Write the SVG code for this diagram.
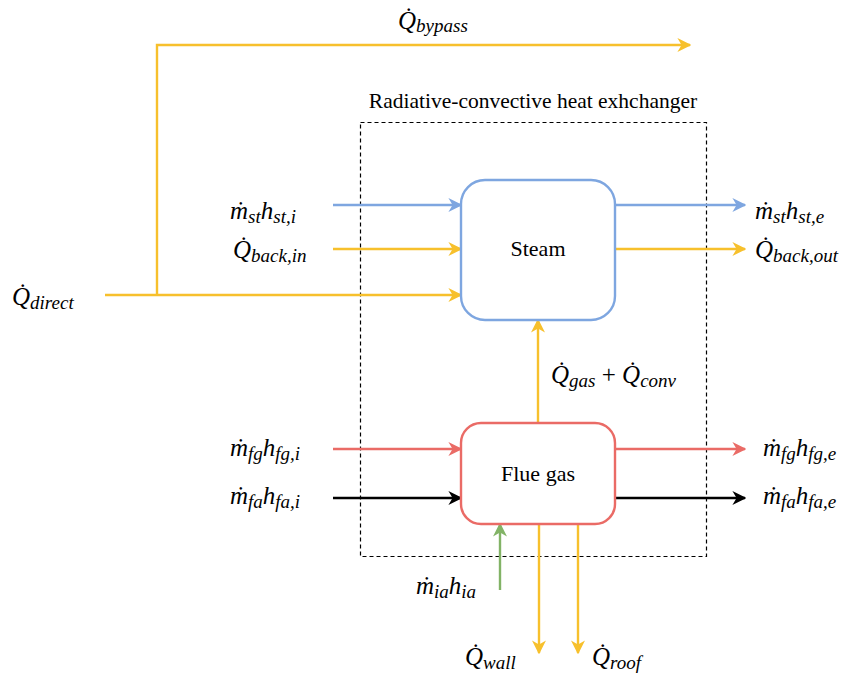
<svg xmlns="http://www.w3.org/2000/svg" width="857" height="675" viewBox="0 0 857 675">
  <defs>
    <marker id="ay" viewBox="0 0 10 10" refX="9" refY="5" markerWidth="14" markerHeight="14" markerUnits="userSpaceOnUse" orient="auto"><path d="M0,0 L10,5 L0,10 L3,5 z" fill="#f7c02c"/></marker>
    <marker id="ab" viewBox="0 0 10 10" refX="9" refY="5" markerWidth="14" markerHeight="14" markerUnits="userSpaceOnUse" orient="auto"><path d="M0,0 L10,5 L0,10 L3,5 z" fill="#7ea6e0"/></marker>
    <marker id="ar" viewBox="0 0 10 10" refX="9" refY="5" markerWidth="14" markerHeight="14" markerUnits="userSpaceOnUse" orient="auto"><path d="M0,0 L10,5 L0,10 L3,5 z" fill="#ea6b66"/></marker>
    <marker id="ak" viewBox="0 0 10 10" refX="9" refY="5" markerWidth="14" markerHeight="14" markerUnits="userSpaceOnUse" orient="auto"><path d="M0,0 L10,5 L0,10 L3,5 z" fill="#000"/></marker>
    <marker id="ag" viewBox="0 0 10 10" refX="9" refY="5" markerWidth="14" markerHeight="14" markerUnits="userSpaceOnUse" orient="auto"><path d="M0,0 L10,5 L0,10 L3,5 z" fill="#82b366"/></marker>
  </defs>

  <!-- control volume boundary -->
  <g id="boundary">
    <rect x="360.5" y="122.5" width="346" height="434" fill="none" stroke="#000" stroke-width="1.2" stroke-dasharray="4 3"/>
    <text x="533" y="108" style="font-family:'Times New Roman','Liberation Serif',serif;font-size:21.5px" text-anchor="middle">Radiative-convective heat exhchanger</text>
  </g>

  <!-- connectors -->
  <g id="connectors" fill="none" stroke-width="2.4">
    <path stroke="#f7c02c" d="M157,295 V45 H690" marker-end="url(#ay)"/>
    <path stroke="#f7c02c" d="M105,295 H461" marker-end="url(#ay)"/>
    <path stroke="#7ea6e0" d="M333,205 H461" marker-end="url(#ab)"/>
    <path stroke="#f7c02c" d="M333,249 H461" marker-end="url(#ay)"/>
    <path stroke="#7ea6e0" d="M615,205 H745" marker-end="url(#ab)"/>
    <path stroke="#f7c02c" d="M615,249 H745" marker-end="url(#ay)"/>
    <path stroke="#f7c02c" d="M538,423 V320" marker-end="url(#ay)"/>
    <path stroke="#ea6b66" d="M333,449 H461" marker-end="url(#ar)"/>
    <path stroke="#000" d="M333,498 H461" marker-end="url(#ak)"/>
    <path stroke="#ea6b66" d="M615,449 H745" marker-end="url(#ar)"/>
    <path stroke="#000" d="M615,498 H745" marker-end="url(#ak)"/>
    <path stroke="#82b366" d="M500,590 V524" marker-end="url(#ag)"/>
    <path stroke="#f7c02c" d="M539,524 V653" marker-end="url(#ay)"/>
    <path stroke="#f7c02c" d="M578,524 V653" marker-end="url(#ay)"/>
  </g>

  <g id="steam">
    <rect x="461" y="180" width="154" height="140" rx="24" fill="#fff" stroke="#7ea6e0" stroke-width="2.4"/>
    <text x="538" y="256" style="font-family:'Times New Roman','Liberation Serif',serif;font-size:22px" text-anchor="middle">Steam</text>
  </g>
  <g id="flue-gas">
    <rect x="461" y="423" width="154" height="101" rx="20" fill="#fff" stroke="#ea6b66" stroke-width="2.4"/>
    <text x="538" y="481" style="font-family:'Times New Roman','Liberation Serif',serif;font-size:22px" text-anchor="middle">Flue gas</text>
  </g>

  <!-- stream labels: dotted symbol, subscripts in smaller type -->
  <g id="labels" style="font-family:'Times New Roman','Liberation Serif',serif;font-style:italic;font-size:25px">
    <text x="398" y="29">Q̇<tspan font-size="19" dy="3">bypass</tspan></text>
    <text x="12" y="305">Q̇<tspan font-size="19" dy="4">direct</tspan></text>
    <text x="230" y="219">ṁ<tspan font-size="19" dy="4">st</tspan><tspan dy="-4">h</tspan><tspan font-size="19" dy="4">st,i</tspan></text>
    <text x="233" y="258">Q̇<tspan font-size="19" dy="4">back,in</tspan></text>
    <text x="755" y="219">ṁ<tspan font-size="19" dy="4">st</tspan><tspan dy="-4">h</tspan><tspan font-size="19" dy="4">st,e</tspan></text>
    <text x="755" y="258">Q̇<tspan font-size="19" dy="4">back,out</tspan></text>
    <text x="551" y="383">Q̇<tspan font-size="19" dy="4">gas</tspan><tspan dy="-4" font-style="normal"> + </tspan>Q̇<tspan font-size="19" dy="4">conv</tspan></text>
    <text x="230" y="456">ṁ<tspan font-size="19" dy="4">fg</tspan><tspan dy="-4">h</tspan><tspan font-size="19" dy="4">fg,i</tspan></text>
    <text x="230" y="504">ṁ<tspan font-size="19" dy="4">fa</tspan><tspan dy="-4">h</tspan><tspan font-size="19" dy="4">fa,i</tspan></text>
    <text x="763" y="456">ṁ<tspan font-size="19" dy="4">fg</tspan><tspan dy="-4">h</tspan><tspan font-size="19" dy="4">fg,e</tspan></text>
    <text x="763" y="504">ṁ<tspan font-size="19" dy="4">fa</tspan><tspan dy="-4">h</tspan><tspan font-size="19" dy="4">fa,e</tspan></text>
    <text x="416" y="594">ṁ<tspan font-size="19" dy="4">ia</tspan><tspan dy="-4">h</tspan><tspan font-size="19" dy="4">ia</tspan></text>
    <text x="465" y="665">Q̇<tspan font-size="19" dy="4">wall</tspan></text>
    <text x="592" y="665">Q̇<tspan font-size="19" dy="4">roof</tspan></text>
  </g>
</svg>
